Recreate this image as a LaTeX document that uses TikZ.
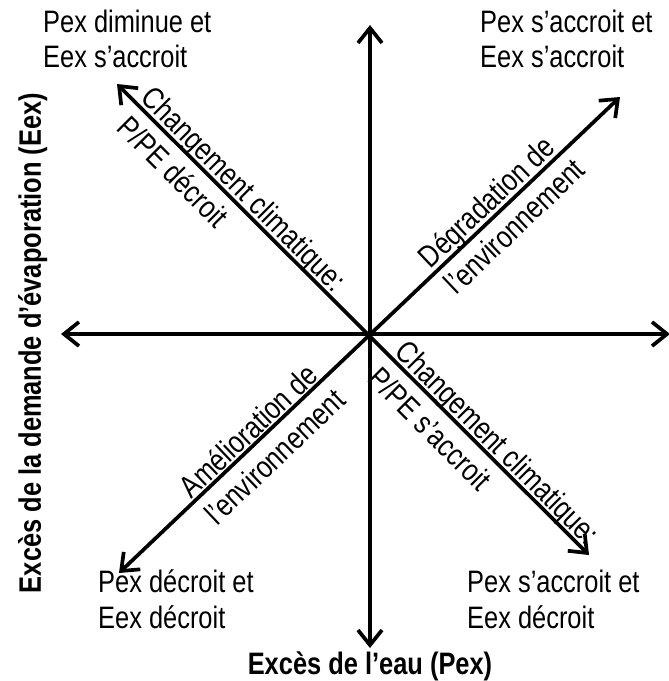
\documentclass[tikz,border=0pt]{standalone}
\usepackage{fontspec}
\setmainfont{Liberation Sans}[FakeStretch=0.82]
\usetikzlibrary{arrows.meta}
\begin{document}
\begin{tikzpicture}[x=1pt,y=-1pt,
  arr/.style={line width=3.7pt, {Straight Barb[length=15pt,width=24pt]}-{Straight Barb[length=15pt,width=24pt]}},
  lbl/.style={font=\fontsize{31}{38}\selectfont, inner sep=0pt, anchor=base},
  corner/.style={lbl, anchor=base west},
  axislbl/.style={font=\bfseries\fontsize{31}{38}\selectfont, inner sep=0pt, anchor=base}]
\useasboundingbox (0,0) rectangle (669,681);
\coordinate (O) at (370,334);
\coordinate (N) at (370,25);
\coordinate (S) at (370,648);
\coordinate (W) at (61,334);
\coordinate (E) at (670,334);
\coordinate (UL) at (117,84);
\coordinate (LR) at (589,555);
\coordinate (UR) at (620,97);
\coordinate (LL) at (119,573);
\draw[arr] (W) -- (E);
\draw[arr] (S) -- (N);
\draw[arr] (LL) -- (UR);
\draw[arr] (UL) -- (LR);
\node[lbl, rotate=-45] (ul1) at (236.8,196.7) {Changement climatique:};
\node[lbl, rotate=-45] (ul2) at (165.4,179.1) {P/PE décroit};
\node[lbl, rotate=-45] (lr1) at (490,450) {Changement climatique:};
\node[lbl, rotate=-45] (lr2) at (422.7,436.3) {P/PE s’accroit};
\node[lbl, rotate=43.5] (ur1) at (494,209.8) {Dégradation de};
\node[lbl, rotate=43.5] (ur2) at (522,234.1) {l’environnement};
\node[lbl, rotate=43.5] (ll1) at (255.8,438.8) {Amélioration de};
\node[lbl, rotate=43.5] (ll2) at (282.3,464.7) {l’environnement};
\node[corner] (tl1) at (43,32) {Pex diminue et};
\node[corner] (tl2) at (43,67) {Eex s’accroit};
\node[corner] (tr1) at (480,32) {Pex s’accroit et};
\node[corner] (tr2) at (480,67) {Eex s’accroit};
\node[corner] (bl1) at (98,592) {Pex décroit et};
\node[corner] (bl2) at (98,628) {Eex décroit};
\node[corner] (br1) at (467,592) {Pex s’accroit et};
\node[corner] (br2) at (467,628) {Eex décroit};
\node[axislbl] (xl) at (370,674) {Excès de l’eau (Pex)};
\node[axislbl, rotate=90] (yl) at (41,343) {Excès de la demande d’évaporation (Eex)};
\end{tikzpicture}
\end{document}
